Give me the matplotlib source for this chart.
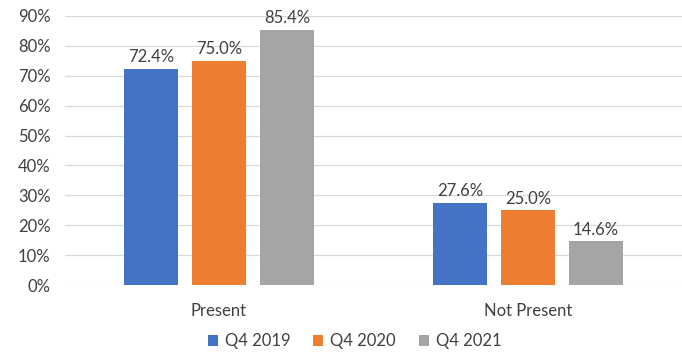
import matplotlib.pyplot as plt
import numpy as np

categories = ['Present', 'Not Present']
series_names = ['Q4 2019', 'Q4 2020', 'Q4 2021']
q4_2019 = [0.724, 0.276]
q4_2020 = [0.750, 0.250]
q4_2021 = [0.854, 0.146]
colors = ['#4472C4', '#ED7D31', '#A5A5A5']

plt.rcParams['font.family'] = ['Lato', 'DejaVu Sans']
text_color = '#404040'

fig = plt.figure(figsize=(6.82, 3.52), dpi=100)
ax = fig.add_axes([64.5 / 682, 67 / 352, 618 / 682, 269 / 352])

x = np.arange(len(categories))
width = 0.172
step = 0.22
for i, (vals, name) in enumerate(zip([q4_2019, q4_2020, q4_2021], series_names)):
    pos = x + (i - 1) * step
    bars = ax.bar(pos, vals, width, color=colors[i], label=name, zorder=3)
    for b, v in zip(bars, vals):
        ax.text(b.get_x() + b.get_width() / 2, v + 0.012, f'{v * 100:.1f}%',
                ha='center', va='bottom', fontsize=12, color=text_color)

ax.set_xlim(-0.5, 1.5)
ax.set_ylim(0, 0.9)
ax.set_yticks(np.arange(0, 0.91, 0.1))
ax.set_yticklabels([f'{int(round(t * 100))}%' for t in np.arange(0, 0.91, 0.1)])
ax.set_xticks(x)
ax.set_xticklabels(categories)
ax.tick_params(axis='both', length=0, labelsize=12, colors=text_color)
ax.tick_params(axis='x', pad=13)
ax.tick_params(axis='y', pad=10)
ax.grid(axis='y', color='#D9D9D9', linewidth=0.9, zorder=0)
for s in ax.spines.values():
    s.set_visible(False)

leg = fig.legend(loc='lower center', bbox_to_anchor=(0.52, -0.035), ncol=3, frameon=False,
                 fontsize=12, handlelength=0.6, handleheight=0.6, handletextpad=0.4,
                 columnspacing=1.4, labelcolor=text_color)

fig.savefig('out.png', dpi=100)
